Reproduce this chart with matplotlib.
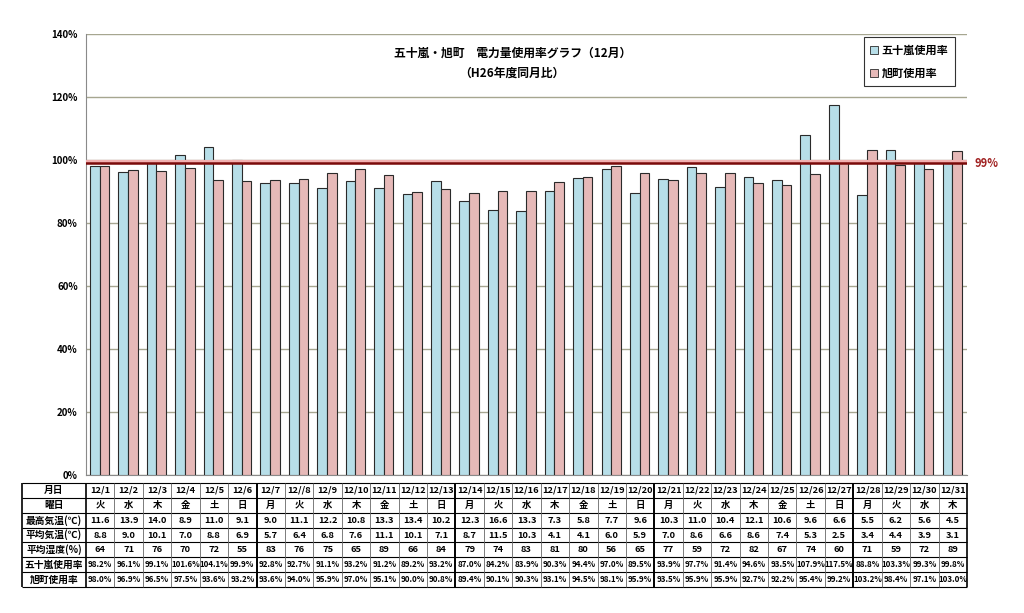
import numpy as np
import matplotlib
matplotlib.use("Agg")
import matplotlib.pyplot as plt
from matplotlib.patches import Patch

plt.rcParams["font.family"] = ["Noto Sans CJK JP", "DejaVu Sans"]

# ----------------------------
# Data
# ----------------------------
dates = ["12/1", "12/2", "12/3", "12/4", "12/5", "12/6", "12/7", "12//8", "12/9", "12/10",
         "12/11", "12/12", "12/13", "12/14", "12/15", "12/16", "12/17", "12/18", "12/19", "12/20",
         "12/21", "12/22", "12/23", "12/24", "12/25", "12/26", "12/27", "12/28", "12/29", "12/30",
         "12/31"]
weekdays = ["火", "水", "木", "金", "土", "日", "月", "火", "水", "木", "金", "土", "日", "月",
            "火", "水", "木", "金", "土", "日", "月", "火", "水", "木", "金", "土", "日", "月",
            "火", "水", "木"]
max_temp = [11.6, 13.9, 14.0, 8.9, 11.0, 9.1, 9.0, 11.1, 12.2, 10.8, 13.3, 13.4, 10.2, 12.3,
            16.6, 13.3, 7.3, 5.8, 7.7, 9.6, 10.3, 11.0, 10.4, 12.1, 10.6, 9.6, 6.6, 5.5, 6.2,
            5.6, 4.5]
avg_temp = [8.8, 9.0, 10.1, 7.0, 8.8, 6.9, 5.7, 6.4, 6.8, 7.6, 11.1, 10.1, 7.1, 8.7, 11.5,
            10.3, 4.1, 4.1, 6.0, 5.9, 7.0, 8.6, 6.6, 8.6, 7.4, 5.3, 2.5, 3.4, 4.4, 3.9, 3.1]
humidity = [64, 71, 76, 70, 72, 55, 83, 76, 75, 65, 89, 66, 84, 79, 74, 83, 81, 80, 56, 65,
            77, 59, 72, 82, 67, 74, 60, 71, 59, 72, 89]
igarashi = [98.2, 96.1, 99.1, 101.6, 104.1, 99.9, 92.8, 92.7, 91.1, 93.2, 91.2, 89.2, 93.2,
            87.0, 84.2, 83.9, 90.3, 94.4, 97.0, 89.5, 93.9, 97.7, 91.4, 94.6, 93.5, 107.9,
            117.5, 88.8, 103.3, 99.3, 99.8]
asahi = [98.0, 96.9, 96.5, 97.5, 93.6, 93.2, 93.6, 94.0, 95.9, 97.0, 95.1, 90.0, 90.8, 89.4,
         90.1, 90.3, 93.1, 94.5, 98.1, 95.9, 93.5, 95.9, 95.9, 92.7, 92.2, 95.4, 99.2, 103.2,
         98.4, 97.1, 103.0]
target = 99

row_labels = ["月日", "曜日", "最高気温(℃)", "平均気温(℃)", "平均湿度(%)", "五十嵐使用率", "旭町使用率"]
series_labels = ["五十嵐使用率", "旭町使用率"]

BLUE = "#B7DEE8"
PINK = "#E6B9B8"
GRID = "#A6A690"

# ----------------------------
# Figure
# ----------------------------
fig = plt.figure(figsize=(10.24, 6.13), dpi=100)
W, H = 1024, 613

left, right, top, bottom = 86, 967, 34, 475
ax = fig.add_axes([left / W, 1 - bottom / H, (right - left) / W, (bottom - top) / H])

x = np.arange(len(dates))
bw = 0.34
ax.bar(x - bw / 2 - 0.02, igarashi, bw, color=BLUE, edgecolor="#2a2a2a", linewidth=0.8, zorder=3)
ax.bar(x + bw / 2 - 0.02, asahi, bw, color=PINK, edgecolor="#2a2a2a", linewidth=0.8, zorder=3)

ax.set_xlim(-0.5, len(dates) - 0.5)
ax.set_ylim(0, 140)
ax.set_yticks(np.arange(0, 141, 20))
ax.set_yticklabels([f"{v}%" for v in range(0, 141, 20)], fontsize=7, fontweight="bold")
ax.set_xticks([])
ax.tick_params(axis="y", length=0, pad=6)
ax.yaxis.grid(True, color=GRID, linewidth=1.0, zorder=0)
for s in ["top", "right"]:
    ax.spines[s].set_visible(False)
ax.spines["left"].set_color("#8a8a8a")
ax.spines["bottom"].set_color("#8a8a8a")

# target line
ax.axhline(target + 0.5, color="#F2B0B0", linewidth=3.0, zorder=4)
ax.axhline(target, color="#7A0A0A", linewidth=1.8, zorder=5)
ax.text(len(dates) - 0.5 + 0.25, target, f"{target}%", color="#A02020", fontsize=8,
        fontweight="bold", va="center", ha="left", clip_on=False)

# title
fig.text(513 / W, 1 - 53 / H, "五十嵐・旭町　電力量使用率グラフ（12月）", ha="center", va="center",
         fontsize=8.5, fontweight="bold")
fig.text(512 / W, 1 - 73 / H, "（H26年度同月比）", ha="center", va="center",
         fontsize=8.5, fontweight="bold")

# legend
handles = [Patch(facecolor=BLUE, edgecolor="#2a2a2a", linewidth=0.6),
           Patch(facecolor=PINK, edgecolor="#2a2a2a", linewidth=0.6)]
leg = ax.legend(handles, series_labels, loc="upper right",
                bbox_to_anchor=(955 / W, 1 - 37 / H), bbox_transform=fig.transFigure,
                fontsize=8, frameon=True, fancybox=False, handlelength=0.7, handleheight=0.7,
                handletextpad=0.3, labelspacing=0.9, borderpad=0.6, borderaxespad=0)
leg.get_frame().set_edgecolor("black")
leg.get_frame().set_linewidth(0.8)
for t in leg.get_texts():
    t.set_fontweight("bold")

# ----------------------------
# Table under chart
# ----------------------------
tleft, ttop, tbottom = 22, 483, 587
tax = fig.add_axes([tleft / W, 1 - tbottom / H, (right - tleft) / W, (tbottom - ttop) / H])
col_w = (right - left) / len(dates)
label_w = (left - tleft) / col_w
tax.set_xlim(-0.5 - label_w, len(dates) - 0.5)
tax.set_ylim(len(row_labels), 0)
tax.axis("off")

rows = [dates, weekdays,
        [f"{v:.1f}" for v in max_temp],
        [f"{v:.1f}" for v in avg_temp],
        [f"{v}" for v in humidity],
        [f"{v:.1f}%" for v in igarashi],
        [f"{v:.1f}%" for v in asahi]]

for r, (lab, vals) in enumerate(zip(row_labels, rows)):
    tax.text(-0.5 - label_w / 2, r + 0.5, lab, ha="center", va="center", fontsize=7,
             fontweight="bold")
    fs = 5.7 if r >= 5 else 6.7
    for c, v in enumerate(vals):
        tax.text(c, r + 0.5, v, ha="center", va="center", fontsize=fs, fontweight="bold")

x0, x1 = -0.5 - label_w, len(dates) - 0.5
tax.hlines(np.arange(len(row_labels) + 1), x0, x1, color="black", linewidth=0.8, clip_on=False)
for c in range(len(dates) + 1):
    xc = c - 0.5
    lw = 0.6
    if c == 0 or c == len(dates):
        lw = 1.2
    elif weekdays[c - 1] == "日":
        lw = 1.4
    tax.vlines(xc, 0, len(row_labels), color="black" if lw > 0.6 else "#666666", linewidth=lw,
               clip_on=False)
tax.vlines(x0, 0, len(row_labels), color="black", linewidth=1.2, clip_on=False)

fig.savefig("out.png", dpi=100)
